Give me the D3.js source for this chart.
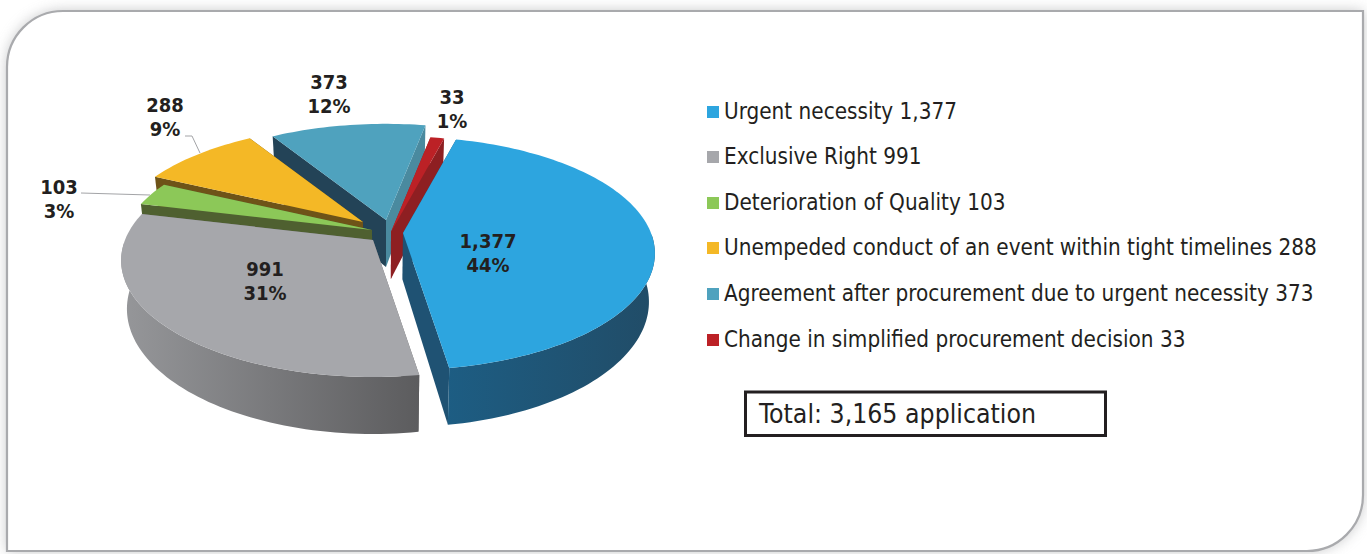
<!DOCTYPE html>
<html><head><meta charset="utf-8">
<style>html,body{margin:0;padding:0;background:#fff}svg{display:block}text{font-family:"DejaVu Sans Condensed","DejaVu Sans",sans-serif;font-stretch:condensed;fill:#231f20}</style>
<script src="https://cdn.jsdelivr.net/npm/d3@7/dist/d3.min.js"></script></head>
<body><svg id="c" width="1367" height="554"></svg>
<script>
// ---- data ----
const categories = ["Urgent necessity","Exclusive Right","Deterioration of Quality","Unempeded conduct of an event within tight timelines","Agreement after procurement due to urgent necessity","Change in simplified procurement decision"];
const values = [1377,991,103,288,373,33];
const valueLabels = ["1,377","991","103","288","373","33"];
const percentLabels = ["44%","31%","3%","9%","12%","1%"];
const totalLabel = "Total: 3,165 application";
// ---- style ----
const topColors  = ["#2da5df","#a6a7ab","#8cc858","#f4b826","#4fa2be","#bc2126"];
const startWall  = ["#1f5273","#6a6a6c","#4f6030","#6e5318","#234357","#8e1f22"];
const endWall    = ["#1f5273","#6a6a6c","#4f6030","#6e5318","#4a8a9f","#8e1f22"];
const wallFrom   = ["#1d5d83","#5c5c5e","#4f6030","#6e5318","#234357","#8e1f22"];
const wallTo     = ["#214c67","#96979a","#4f6030","#6e5318","#4a8a9f","#8e1f22"];
// ---- layout ----
const pieCx = 385, pieCy = 232, rx = 248, ry = 113, persp = 0.175, depth = 47, baseScale = 0.978;
const startDeg = 14.5;
const offsets = [[18,1],[-12,8],[-13,-2],[-22,-10],[1,-12],[6,0]]; // explosion of each slice
const drawOrder = [4,5,3,2,1,0];
const labelPos = [[488,241],[265,269],[59,187],[165,105],[329,82],[452,97]];
const legendY = [112,157,203,248,294,340];

const svg = d3.select("#c");
const defs = svg.append("defs");
defs.append("filter").attr("id","blur").attr("x","-5%").attr("y","-5%").attr("width","110%").attr("height","110%")
  .append("feGaussianBlur").attr("stdDeviation",7);

// panel
const L=7,T=11,R=1363,B=551,r=56;
const panel = `M${L},${B}V${T+r}A${r},${r} 0 0 1 ${L+r},${T}H${R}V${B-r}A${r},${r} 0 0 1 ${R-r},${B}Z`;
svg.append("path").attr("d",panel).attr("fill","#9a9b9e").attr("opacity",.6).attr("filter","url(#blur)");
svg.append("path").attr("d",panel).attr("fill","#fff").attr("stroke","#a9aaad").attr("stroke-width",2.2);

// pie
const rad = d=>d*Math.PI/180;
const arcs = d3.pie().value(d=>d).sort(null).startAngle(rad(startDeg)).endAngle(rad(startDeg)+2*Math.PI)(values);
const scaleOf = v=>1/(1-persp*v);
function topPt(i,t,e){
  const u=Math.sin(t)*e, v=-Math.cos(t)*e, s=scaleOf(v);
  return {x:pieCx+offsets[i][0]+rx*u*s, y:pieCy+offsets[i][1]+ry*v*s, s, v};
}
const botPt = p=>({x:pieCx+(p.x-pieCx)*baseScale, y:p.y+depth*p.s});
const line = d3.line().x(d=>d.x).y(d=>d.y);
const poly = pts=>line(pts)+"Z";

const g = svg.append("g");
drawOrder.forEach(i=>{
  const a=arcs[i];
  const n=Math.max(4,Math.ceil((a.endAngle-a.startAngle)/rad(1.5)));
  const rim=d3.range(n+1).map(k=>topPt(i,a.startAngle+(a.endAngle-a.startAngle)*k/n,1));
  const apex=topPt(i,0,0);
  const cut=(p,c)=>g.append("path").attr("d",poly([apex,p,botPt(p),botPt(apex)])).attr("fill",c);
  cut(rim[0],startWall[i]);
  cut(rim[n],endWall[i]);
  // only the near part of the rim shows a wall
  const near=rim.filter(p=>p.v>=0);
  if(near.length>1){
    const id="w"+i;
    const xs=near.map(p=>botPt(p).x).concat(near.map(p=>p.x));
    const gr=defs.append("linearGradient").attr("id",id).attr("gradientUnits","userSpaceOnUse")
      .attr("x1",i==1?d3.max(xs):d3.min(xs)).attr("x2",i==1?d3.min(xs):d3.max(xs)).attr("y1",0).attr("y2",0);
    gr.append("stop").attr("offset",0).attr("stop-color",wallFrom[i]);
    gr.append("stop").attr("offset",1).attr("stop-color",wallTo[i]);
    g.append("path").attr("d",poly(near.concat(near.slice().reverse().map(botPt)))).attr("fill",`url(#${id})`);
  }
  g.append("path").attr("d",poly([apex].concat(rim))).attr("fill",topColors[i]);
});

// leader lines
const leader=d3.line().x(d=>d[0]).y(d=>d[1]);
const leaderA=[[81,193],[150,195]], leaderB=[[185,136],[192,136],[200,153]];
[leaderA,leaderB].forEach(p=>svg.append("path").attr("d",leader(p)).attr("fill","none").attr("stroke","#a3a4a7").attr("stroke-width",1));

// data labels
values.forEach((v,i)=>{
  const t=svg.append("text").attr("text-anchor","middle").attr("font-weight","bold").attr("font-size",20);
  t.append("tspan").attr("x",labelPos[i][0]).attr("y",labelPos[i][1]+7).text(valueLabels[i]);
  t.append("tspan").attr("x",labelPos[i][0]).attr("y",labelPos[i][1]+31).text(percentLabels[i]);
});

// legend
categories.forEach((c,i)=>{
  svg.append("rect").attr("x",707).attr("y",legendY[i]-6).attr("width",12).attr("height",12).attr("fill",topColors[i]);
  svg.append("text").attr("x",724).attr("y",legendY[i]+7).attr("font-size",22.3).text(c+" "+valueLabels[i]);
});

// total box
svg.append("rect").attr("x",745.5).attr("y",392).attr("width",360).attr("height",43.5).attr("fill","#fff").attr("stroke","#231f20").attr("stroke-width",3);
svg.append("text").attr("x",759).attr("y",423).attr("font-size",26.4).text(totalLabel);
</script></body></html>
